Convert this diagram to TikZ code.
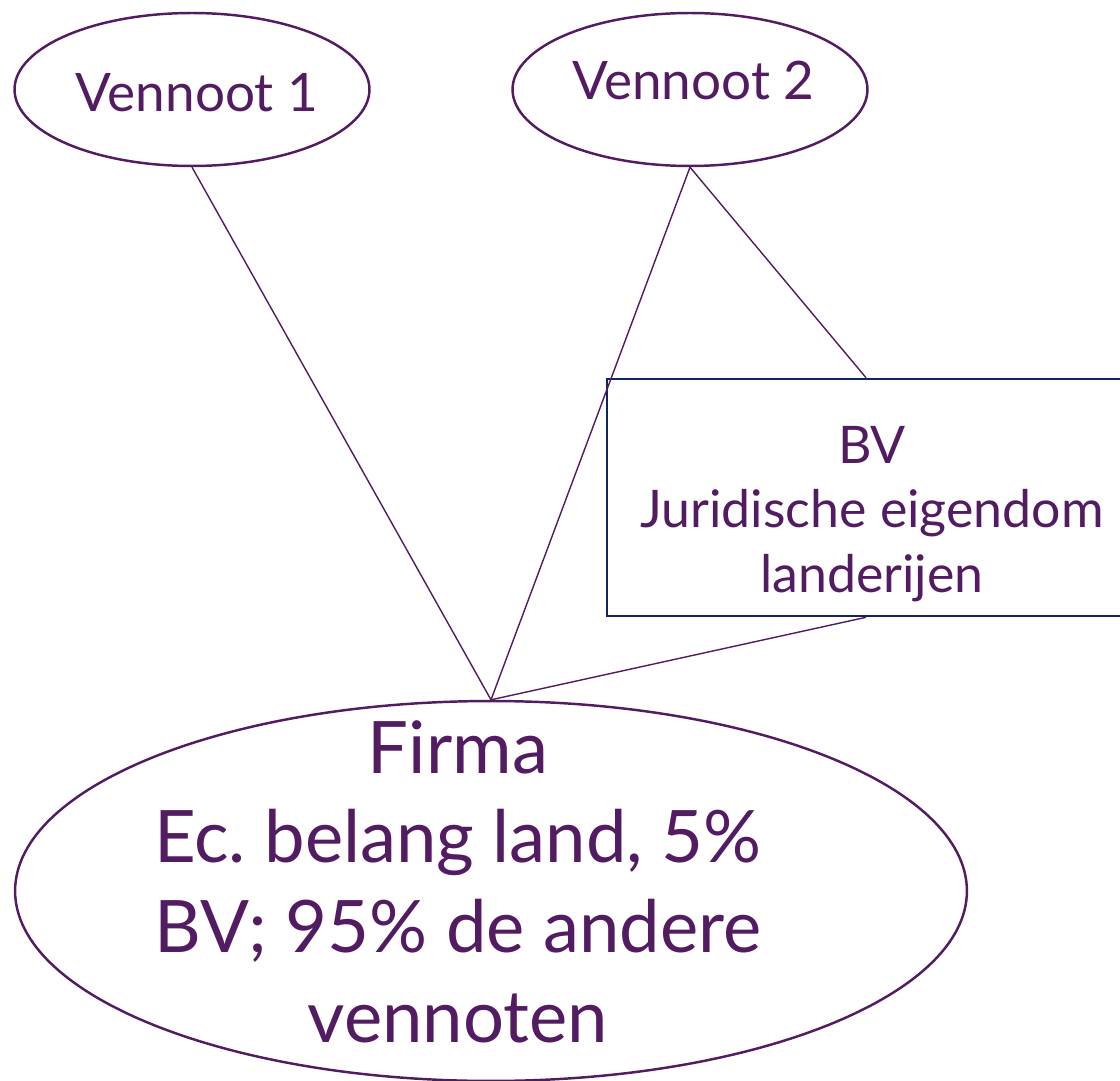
\documentclass[tikz,border=0pt]{standalone}
\usepackage{fontspec}
\setmainfont{Lato}
\usepackage{tikz}
\usetikzlibrary{calc,shapes.geometric}
\definecolor{paars}{HTML}{521B62}
\definecolor{marine}{HTML}{0F2660}
\frenchspacing
\tikzset{
    vennoot/.style={ellipse, draw=paars, line width=1.4pt,
        minimum width=7.1cm, minimum height=3.06cm, inner sep=0pt},
    tekst/.style={anchor=base, align=center, text=paars, inner sep=0pt},
    bvbox/.style={rectangle, draw=marine, line width=1.5pt,
        minimum width=10.36cm, minimum height=4.74cm, inner sep=0pt},
    verband/.style={draw=paars, line width=0.8pt}
}

\begin{document}
\begin{tikzpicture}[x=0.02cm,y=-0.02cm]
        \useasboundingbox (0,0) rectangle (1120,1081);
        \node[vennoot] (v1) at (192,89.5) {};
        \node[vennoot] (v2) at (690,89.5) {};
        \node[bvbox] (bv) at (866,497.5) {};
        \node[ellipse, draw=paars, line width=1.4pt, minimum width=19.04cm,
            minimum height=7.6cm, inner sep=0pt] (firma) at (491,891) {};
        % teksten
        \node[tekst, font=\fontsize{30.2}{36}\selectfont] (v1tekst) at (197,112) {Vennoot 1};
        \node[tekst, font=\fontsize{30.2}{36}\selectfont] (v2tekst) at (693.5,100) {Vennoot 2};
        \node[tekst, font=\fontsize{29.5}{36.6}\selectfont] (bvtekst) at (872,592)
            {BV\\Juridische eigendom\\landerijen};
        \node[tekst, font=\fontsize{41.2}{51}\selectfont] (firmatekst) at (458,1042)
            {Firma\\Ec. belang land, 5\%\\BV; 95\% de andere\\vennoten};
        \draw[verband] (v1.south) -- (firma.north);
        \draw[verband] (v2.south) -- (firma.north);
        \draw[verband] (v2.south) -- (bv.north);
        \draw[verband] (bv.south) -- (firma.north);
    \end{tikzpicture}
\end{document}
